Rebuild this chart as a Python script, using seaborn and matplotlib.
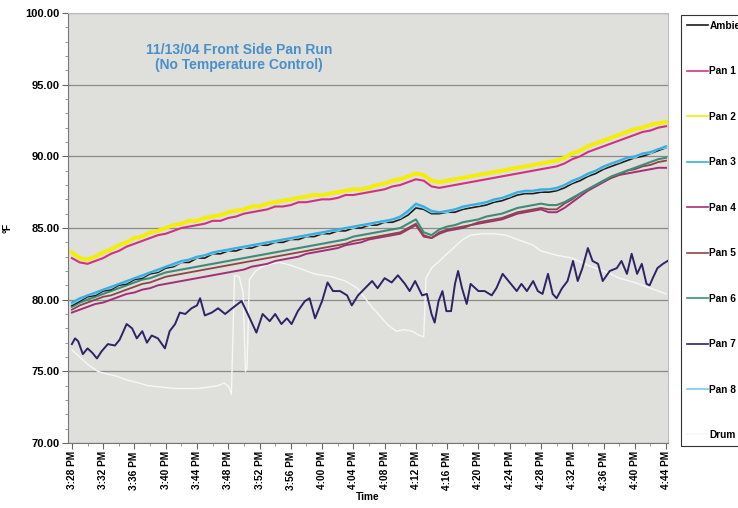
import numpy as np
import pandas as pd
import seaborn as sns
import matplotlib
matplotlib.use("Agg")
import matplotlib.pyplot as plt
from matplotlib.ticker import MultipleLocator

# minutes after 3:28 PM, one reading per minute
minutes = list(range(77))
tick_labels = ["3:28 PM", "3:32 PM", "3:36 PM", "3:40 PM", "3:44 PM", "3:48 PM", "3:52 PM",
               "3:56 PM", "4:00 PM", "4:04 PM", "4:08 PM", "4:12 PM", "4:16 PM", "4:20 PM",
               "4:24 PM", "4:28 PM", "4:32 PM", "4:36 PM", "4:40 PM", "4:44 PM"]

ambient = [79.6, 79.9, 80.2, 80.3, 80.6, 80.7, 81.0, 81.1, 81.4, 81.5,
           81.8, 81.9, 82.2, 82.3, 82.6, 82.6, 82.9, 82.9, 83.2, 83.2,
           83.4, 83.4, 83.6, 83.6, 83.8, 83.8, 84.0, 84.0, 84.2, 84.2,
           84.4, 84.4, 84.6, 84.6, 84.8, 84.8, 85.0, 85.0, 85.2, 85.2,
           85.4, 85.4, 85.6, 85.9, 86.4, 86.3, 86.0, 86.0, 86.1, 86.1,
           86.3, 86.4, 86.5, 86.6, 86.8, 86.9, 87.1, 87.3, 87.4, 87.4,
           87.5, 87.5, 87.6, 87.8, 88.1, 88.3, 88.6, 88.8, 89.1, 89.3,
           89.5, 89.7, 89.9, 90.0, 90.2, 90.4, 90.6]
pan1 = [82.9, 82.6, 82.5, 82.7, 82.9, 83.2, 83.4, 83.7, 83.9, 84.1,
        84.3, 84.5, 84.6, 84.8, 85.0, 85.1, 85.2, 85.3, 85.5, 85.5,
        85.7, 85.8, 86.0, 86.1, 86.2, 86.3, 86.5, 86.5, 86.6, 86.8,
        86.8, 86.9, 87.0, 87.0, 87.1, 87.3, 87.3, 87.4, 87.5, 87.6,
        87.7, 87.9, 88.0, 88.2, 88.4, 88.3, 87.9, 87.8, 87.9, 88.0,
        88.1, 88.2, 88.3, 88.4, 88.5, 88.6, 88.7, 88.8, 88.9, 89.0,
        89.1, 89.2, 89.3, 89.5, 89.8, 90.0, 90.3, 90.5, 90.7, 90.9,
        91.1, 91.3, 91.5, 91.7, 91.8, 92.0, 92.1]
pan2 = [83.3, 82.9, 82.8, 83.0, 83.3, 83.5, 83.8, 84.0, 84.3, 84.4,
        84.7, 84.8, 85.0, 85.2, 85.3, 85.5, 85.5, 85.7, 85.8, 85.9,
        86.1, 86.2, 86.3, 86.5, 86.5, 86.7, 86.8, 86.9, 87.0, 87.1,
        87.2, 87.3, 87.3, 87.4, 87.5, 87.6, 87.7, 87.7, 87.8, 88.0,
        88.1, 88.3, 88.4, 88.6, 88.8, 88.7, 88.3, 88.2, 88.3, 88.4,
        88.5, 88.6, 88.7, 88.8, 88.9, 89.0, 89.1, 89.2, 89.3, 89.4,
        89.5, 89.6, 89.7, 89.9, 90.2, 90.4, 90.7, 90.9, 91.1, 91.3,
        91.5, 91.7, 91.9, 92.0, 92.2, 92.3, 92.4]
pan3 = [79.8, 80.1, 80.3, 80.5, 80.7, 80.9, 81.1, 81.3, 81.5, 81.7,
        81.9, 82.1, 82.3, 82.5, 82.7, 82.8, 83.0, 83.1, 83.3, 83.4,
        83.5, 83.6, 83.7, 83.8, 83.9, 84.0, 84.1, 84.2, 84.3, 84.4,
        84.5, 84.6, 84.7, 84.8, 84.9, 85.0, 85.1, 85.2, 85.3, 85.4,
        85.5, 85.6, 85.8, 86.2, 86.7, 86.5, 86.2, 86.1, 86.2, 86.3,
        86.5, 86.6, 86.7, 86.8, 87.0, 87.1, 87.3, 87.5, 87.6, 87.6,
        87.7, 87.7, 87.8, 88.0, 88.3, 88.5, 88.8, 89.0, 89.3, 89.5,
        89.7, 89.9, 90.0, 90.2, 90.3, 90.5, 90.7]
pan4 = [79.1, 79.3, 79.5, 79.7, 79.8, 80.0, 80.2, 80.4, 80.5, 80.7,
        80.8, 81.0, 81.1, 81.2, 81.3, 81.4, 81.5, 81.6, 81.7, 81.8,
        81.9, 82.0, 82.1, 82.3, 82.4, 82.5, 82.7, 82.8, 82.9, 83.0,
        83.2, 83.3, 83.4, 83.5, 83.6, 83.8, 83.9, 84.0, 84.2, 84.3,
        84.4, 84.5, 84.6, 84.9, 85.2, 84.4, 84.3, 84.6, 84.8, 84.9,
        85.0, 85.2, 85.3, 85.4, 85.5, 85.6, 85.8, 86.0, 86.1, 86.2,
        86.3, 86.1, 86.1, 86.4, 86.8, 87.2, 87.6, 87.9, 88.2, 88.5,
        88.7, 88.8, 88.9, 89.0, 89.1, 89.2, 89.2]
pan5 = [79.3, 79.6, 79.8, 80.0, 80.2, 80.3, 80.5, 80.7, 80.9, 81.1,
        81.2, 81.4, 81.6, 81.7, 81.8, 81.9, 82.0, 82.1, 82.2, 82.3,
        82.4, 82.5, 82.6, 82.7, 82.8, 82.9, 83.0, 83.1, 83.2, 83.3,
        83.4, 83.5, 83.6, 83.7, 83.8, 83.9, 84.1, 84.2, 84.3, 84.4,
        84.5, 84.6, 84.7, 85.0, 85.3, 84.5, 84.3, 84.7, 84.9, 85.0,
        85.1, 85.2, 85.4, 85.5, 85.6, 85.7, 85.9, 86.1, 86.2, 86.3,
        86.4, 86.3, 86.3, 86.7, 87.0, 87.4, 87.7, 88.0, 88.3, 88.5,
        88.7, 89.0, 89.1, 89.3, 89.4, 89.6, 89.7]
pan6 = [79.5, 79.8, 80.0, 80.2, 80.4, 80.6, 80.8, 81.0, 81.2, 81.4,
        81.5, 81.7, 81.9, 82.0, 82.1, 82.2, 82.3, 82.4, 82.5, 82.6,
        82.7, 82.8, 82.9, 83.0, 83.1, 83.2, 83.3, 83.4, 83.5, 83.6,
        83.7, 83.8, 83.9, 84.0, 84.1, 84.2, 84.4, 84.5, 84.6, 84.7,
        84.8, 84.9, 85.0, 85.3, 85.6, 84.7, 84.5, 84.9, 85.1, 85.2,
        85.4, 85.5, 85.6, 85.8, 85.9, 86.0, 86.2, 86.4, 86.5, 86.6,
        86.7, 86.6, 86.6, 86.8, 87.1, 87.4, 87.7, 88.0, 88.3, 88.6,
        88.8, 89.0, 89.2, 89.4, 89.6, 89.8, 89.9]
pan8 = [79.7, 80.0, 80.3, 80.4, 80.7, 80.8, 81.1, 81.2, 81.5, 81.6,
        81.9, 82.0, 82.3, 82.4, 82.6, 82.8, 82.9, 83.1, 83.2, 83.4,
        83.4, 83.6, 83.6, 83.8, 83.8, 84.0, 84.0, 84.2, 84.2, 84.4,
        84.4, 84.6, 84.6, 84.8, 84.8, 85.0, 85.0, 85.2, 85.2, 85.4,
        85.4, 85.6, 85.7, 86.1, 86.6, 86.4, 86.1, 86.1, 86.1, 86.3,
        86.4, 86.6, 86.6, 86.8, 86.9, 87.1, 87.2, 87.5, 87.5, 87.6,
        87.6, 87.7, 87.7, 88.0, 88.2, 88.5, 88.7, 89.0, 89.2, 89.5,
        89.6, 89.9, 89.9, 90.2, 90.2, 90.5, 90.6]

# Pan 7 and Drum read at their own times
pan7_t = [0.0, 0.4, 0.8, 1.4, 2.0, 2.6, 3.2, 3.8, 4.6, 5.5, 6.1, 7.0, 7.7, 8.3, 9.0, 9.6,
          10.2, 11.0, 11.9, 12.5, 13.2, 13.8, 14.5, 15.3, 16.0, 16.4, 17.0, 17.9, 18.7,
          19.6, 20.5, 21.7, 22.5, 23.6, 24.4, 25.3, 26.0, 26.8, 27.5, 28.1, 28.9, 29.8,
          30.4, 31.1, 32.0, 32.7, 33.4, 34.3, 35.2, 35.8, 36.6, 37.5, 38.4, 39.1, 40.0,
          40.9, 41.7, 42.6, 43.2, 43.9, 44.8, 45.4, 46.0, 46.4, 46.9, 47.4, 47.9, 48.5,
          49.0, 49.4, 49.9, 50.5, 51.0, 52.0, 52.8, 53.7, 54.3, 55.1, 56.0, 56.9, 57.5,
          58.2, 59.0, 59.6, 60.2, 60.9, 61.5, 62.0, 62.7, 63.4, 64.1, 64.7, 65.3, 66.0,
          66.6, 67.3, 67.9, 68.8, 69.7, 70.3, 71.0, 71.6, 72.3, 72.9, 73.5, 73.9, 74.3,
          74.9, 75.6, 76.2]
pan7 = [76.9, 77.3, 77.1, 76.2, 76.6, 76.3, 75.9, 76.4, 76.9, 76.8, 77.2, 78.3, 78.0, 77.3,
        77.8, 77.0, 77.5, 77.3, 76.6, 77.8, 78.3, 79.1, 79.0, 79.4, 79.6, 80.1, 78.9, 79.1,
        79.4, 79.0, 79.4, 79.9, 79.0, 77.7, 79.0, 78.5, 79.0, 78.3, 78.7, 78.3, 79.2, 79.9,
        80.1, 78.7, 79.9, 81.2, 80.6, 80.6, 80.3, 79.6, 80.3, 80.8, 81.3, 80.8, 81.5, 81.2,
        81.7, 81.1, 80.6, 81.3, 80.3, 80.4, 79.0, 78.4, 79.9, 80.6, 79.2, 79.2, 81.1, 82.0,
        80.8, 79.7, 81.1, 80.6, 80.6, 80.3, 80.8, 81.8, 81.2, 80.6, 81.1, 80.6, 81.3, 80.6,
        80.4, 81.8, 80.4, 80.1, 80.8, 81.3, 82.7, 81.3, 82.2, 83.6, 82.7, 82.5, 81.3, 82.0,
        82.2, 82.7, 81.8, 83.2, 81.8, 82.5, 81.1, 81.0, 81.5, 82.2, 82.5, 82.7]

drum_t = [0.0, 1.0, 2.0, 3.3, 4.5, 5.5, 7.0, 8.5, 9.7, 11.5, 13.2, 15.0, 16.1, 17.5, 18.7,
          19.5, 20.1, 20.4, 20.8, 21.4, 21.9, 22.2, 22.4, 22.7, 23.5, 24.3, 25.5, 26.6,
          28.0, 29.0, 31.0, 33.2, 35.0, 36.5, 37.5, 38.5, 39.5, 40.5, 41.5, 42.5, 43.5,
          44.5, 45.0, 45.3, 46.0, 47.0, 48.0, 49.0, 50.0, 51.0, 52.5, 54.0, 55.5, 57.0,
          58.0, 59.0, 60.0, 62.0, 64.0, 66.0, 67.0, 68.5, 70.0, 72.0, 74.0, 76.0]
drum = [76.5, 76.0, 75.5, 75.0, 74.8, 74.7, 74.4, 74.2, 74.0, 73.9, 73.8, 73.8, 73.8, 73.9,
        74.0, 74.2, 73.9, 73.4, 81.7, 81.6, 80.5, 75.0, 75.2, 81.4, 82.0, 82.3, 82.5, 82.6,
        82.4, 82.2, 81.8, 81.6, 81.3, 80.8, 80.1, 79.4, 78.8, 78.2, 77.8, 77.9, 77.8, 77.5,
        77.4, 81.5, 82.2, 82.7, 83.2, 83.7, 84.2, 84.5, 84.6, 84.6, 84.5, 84.2, 84.0, 83.8,
        83.4, 83.1, 82.9, 82.4, 82.2, 81.9, 81.5, 81.2, 80.8, 80.4]

series = [("Ambient", minutes, ambient, "#1c1c1c", 1.2, 6),
          ("Pan 1", minutes, pan1, "#cc3385", 1.5, 8),
          ("Pan 2", minutes, pan2, "#f4ee00", 2.8, 9),
          ("Pan 3", minutes, pan3, "#38ade0", 1.5, 7),
          ("Pan 4", minutes, pan4, "#a0307a", 1.4, 3),
          ("Pan 5", minutes, pan5, "#8c4646", 1.3, 4),
          ("Pan 6", minutes, pan6, "#3d8c7c", 1.5, 5),
          ("Pan 7", pan7_t, pan7, "#2e2366", 1.4, 10),
          ("Pan 8", minutes, pan8, "#7ccbe6", 1.4, 6.5),
          ("Drum", drum_t, drum, "#f7f7f7", 1.0, 2)]

plt.rcParams["font.family"] = ["Liberation Sans", "DejaVu Sans"]
plt.rcParams["font.weight"] = "bold"

fig = plt.figure(figsize=(7.38, 5.08), dpi=100)
ax = fig.add_axes([68/738, 1-443/508, 600/738, 430/508])
ax.set_facecolor("#dfdfdb")

for name, t, v, c, lw, z in series:
    sns.lineplot(x=t, y=v, color=c, linewidth=lw, label=name, ax=ax, zorder=z)

ax.set_xlim(-0.5, 76.25)
ax.set_ylim(70, 100)
ax.set_xticks(range(0, 77, 4))
ax.set_xticklabels(tick_labels, rotation=90, fontsize=7.3, fontweight="bold")
ax.xaxis.set_minor_locator(MultipleLocator(2))
ax.set_yticks(range(70, 101, 5))
ax.set_yticklabels([f"{y:.2f}" for y in range(70, 101, 5)], fontsize=8, fontweight="bold")
ax.yaxis.set_minor_locator(MultipleLocator(1))
ax.tick_params(axis="both", which="major", length=4, width=0.8, color="#666666", pad=2)
ax.tick_params(axis="both", which="minor", length=2, width=0.6, color="#888888")
ax.grid(axis="y", which="major", color="#8a8a8a", linewidth=0.9)
ax.grid(axis="x", visible=False)
for s in ["left", "bottom"]:
    ax.spines[s].set_color("#777777")
for s in ["top", "right"]:
    ax.spines[s].set_color("#bbbbbb")

ax.set_xlabel("Time", fontsize=7.3, fontweight="bold", labelpad=2)
ax.set_ylabel("°F", fontsize=7.3, fontweight="bold")
ax.yaxis.set_label_coords(-0.093, 0.5)

ax.text(0.285, 0.93, "11/13/04 Front Side Pan Run\n(No Temperature Control)",
        transform=ax.transAxes, ha="center", va="top", fontsize=10,
        fontweight="bold", color="#4a8fc8", linespacing=1.1)

handles, labels = ax.get_legend_handles_labels()
ax.get_legend().remove()
leg = fig.legend(handles, labels, loc="upper left", bbox_to_anchor=(676/738, 1-10/508),
                 bbox_transform=fig.transFigure, fontsize=7.3, frameon=True, fancybox=False,
                 edgecolor="#333333", facecolor="white", framealpha=1,
                 labelspacing=3.5, handlelength=2.1, handletextpad=0.15, borderpad=0.55)
leg.get_frame().set_linewidth(0.8)
for t in leg.get_texts():
    t.set_fontweight("bold")
for h in leg.legend_handles:
    h.set_linewidth(1.2)

fig.savefig("out.png", dpi=100)
